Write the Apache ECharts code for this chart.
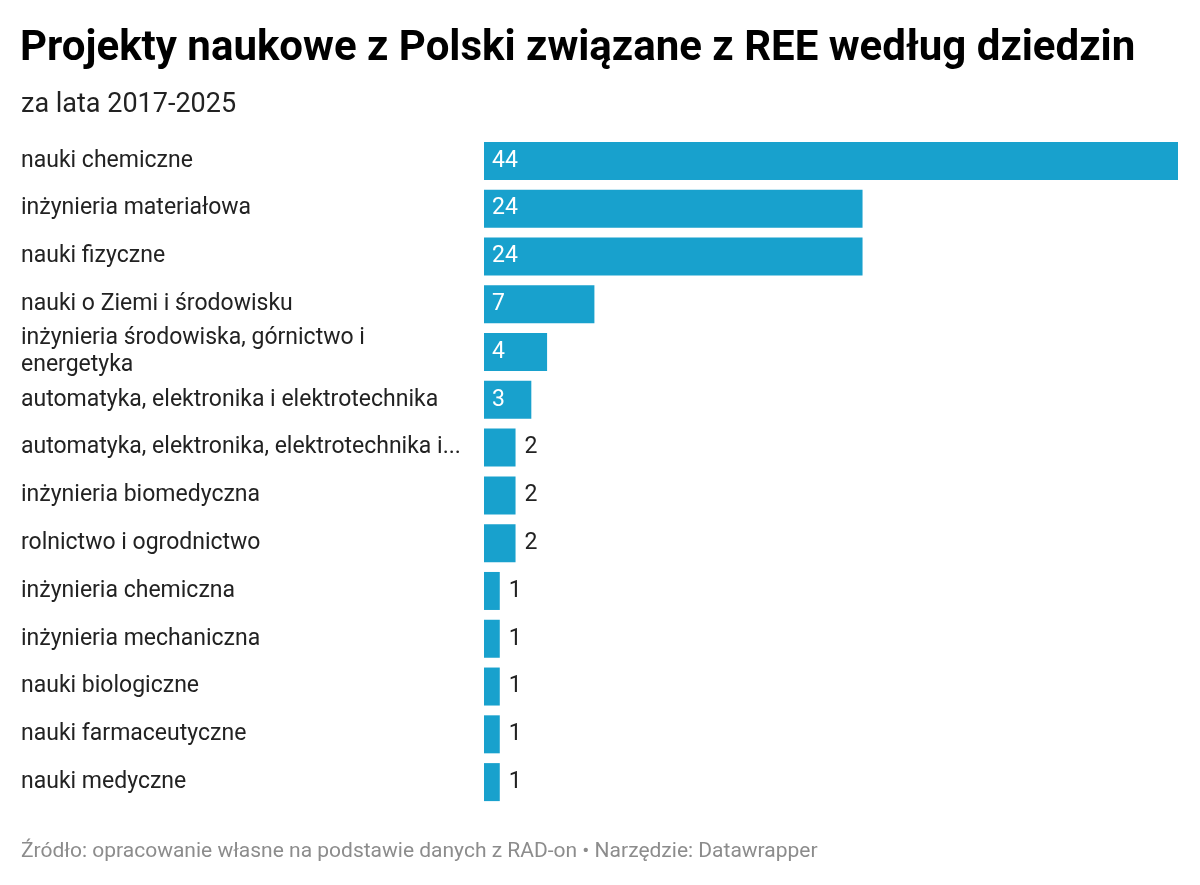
<!DOCTYPE html>
<html>
<head>
<meta charset="utf-8">
<script src="https://cdn.jsdelivr.net/npm/echarts@6/dist/echarts.min.js"></script>
<style>
  html, body { margin: 0; padding: 0; background: #fff; }
  #chart { width: 1200px; height: 885px; }
</style>
</head>
<body>
<div id="chart"></div>
<script>
// dziedziny (etykiety tak jak na wykresie)
var categories = [
    'nauki chemiczne',
    'inżynieria materiałowa',
    'nauki fizyczne',
    'nauki o Ziemi i środowisku',
    'inżynieria środowiska, górnictwo i\nenergetyka',
    'automatyka, elektronika i elektrotechnika',
    'automatyka, elektronika, elektrotechnika i...',
    'inżynieria biomedyczna',
    'rolnictwo i ogrodnictwo',
    'inżynieria chemiczna',
    'inżynieria mechaniczna',
    'nauki biologiczne',
    'nauki farmaceutyczne',
    'nauki medyczne'
];
// liczba projektów
var projectCounts = [44, 24, 24, 7, 4, 3, 2, 2, 2, 1, 1, 1, 1, 1];

var BAR_COLOR = '#18a1cd';
var FONT = 'Roboto, "Noto Sans", sans-serif';

var chart = echarts.init(document.getElementById('chart'));

// etykiety w środku słupka dla większych wartości, obok dla małych
var seriesData = projectCounts.map(function(v) {
    var inside = v >= 3;
    return {
        value: v,
        label: {
            position: inside ? 'insideLeft' : 'right',
            distance: inside ? 8 : 9,
            color: inside ? '#ffffff' : '#222222'
        }
    };
});

var option = {
    backgroundColor: '#ffffff',
    animation: false,
    title: [{
        text: 'Projekty naukowe z Polski związane z REE według dziedzin',
        left: 15,
        top: 23,
        textStyle: { fontFamily: FONT, fontWeight: 'bold', fontSize: 42, color: '#000000' }
    }, {
        text: 'za lata 2017-2025',
        left: 16,
        top: 87,
        textStyle: { fontFamily: FONT, fontWeight: 'normal', fontSize: 27, color: '#222222' }
    }, {
        text: 'Źródło: opracowanie własne na podstawie danych z RAD-on • Narzędzie: Datawrapper',
        left: 16,
        top: 836,
        textStyle: { fontFamily: FONT, fontWeight: 'normal', fontSize: 21, color: '#8c8c8c' }
    }],
    grid: {
        left: 484,
        right: 22,
        top: 137,
        bottom: 79
    },
    xAxis: {
        type: 'value',
        min: 0,
        max: 44,
        show: false
    },
    yAxis: {
        type: 'category',
        inverse: true,
        data: categories,
        axisLine: { show: false },
        axisTick: { show: false },
        splitLine: { show: false },
        axisLabel: {
            align: 'left',
            margin: 463,
            fontFamily: FONT,
            fontSize: 23,
            lineHeight: 27,
            color: '#222222'
        }
    },
    series: [{
        type: 'bar',
        data: seriesData,
        barWidth: 38,
        itemStyle: { color: BAR_COLOR },
        label: {
            show: true,
            fontFamily: FONT,
            fontSize: 23
        }
    }]
};

chart.setOption(option);
</script>
</body>
</html>
